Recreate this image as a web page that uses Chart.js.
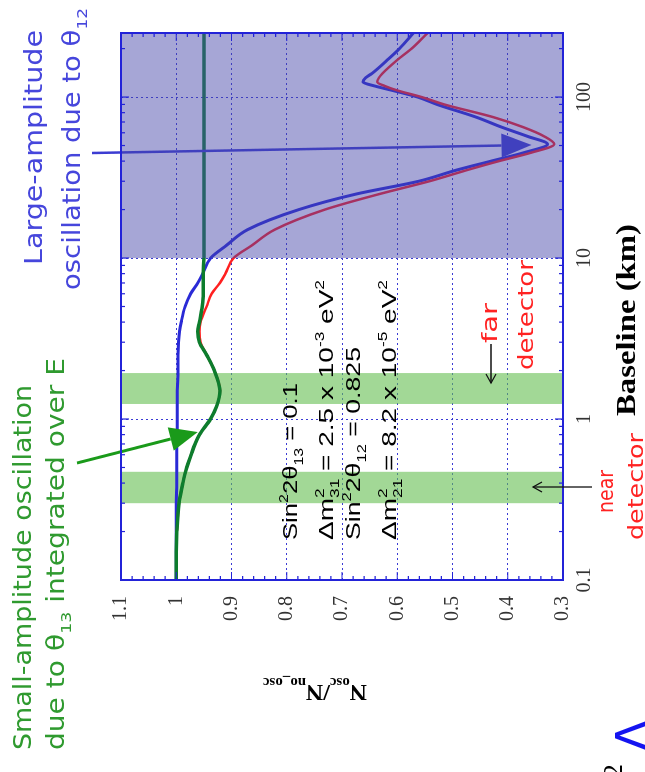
<!DOCTYPE html>
<html>
<head>
<meta charset="utf-8">
<script src="https://cdn.jsdelivr.net/npm/chart.js@4.4.1/dist/chart.umd.min.js"></script>
<style>
  html, body { margin: 0; padding: 0; background: #fff; }
  #page { position: relative; width: 645px; height: 772px; overflow: hidden; background: #fff; }
  /* the figure is printed on its side: draw it upright, then turn it */
  #turn { position: absolute; left: 0; top: 0; width: 772px; height: 645px;
          transform-origin: 0 0; transform: translate(0, 772px) rotate(-90deg); }
</style>
</head>
<body>
<div id="page"><div id="turn"><canvas id="myChart" width="772" height="645"></canvas></div></div>
<script>
  // baseline (km), shared by the three curves
  const baselineKm = [0.1, 0.15, 0.2, 0.3, 0.4, 0.5, 0.6, 0.7, 0.8, 1, 1.2, 1.5, 2, 2.5, 3, 3.5, 4, 5, 6, 7, 8,
    10, 12, 15, 20, 25, 30, 35, 40, 45, 51, 57, 65, 75, 90, 100, 110, 117, 124, 132, 140, 170, 200, 250];

  // N_osc / N_no_osc  -  theta12 only (blue)
  const ratioTheta12 = [1.000, 1.000, 1.000, 1.000, 0.999, 0.999, 0.999, 0.999, 0.998, 0.998, 0.998, 0.998, 0.997, 0.997,
    0.996, 0.994, 0.991, 0.984, 0.974, 0.961, 0.952,
    0.938, 0.909, 0.871, 0.778, 0.674, 0.561, 0.495, 0.430, 0.372, 0.328, 0.364, 0.411, 0.457, 0.528, 0.563, 0.609,
    0.640, 0.662, 0.657, 0.646, 0.618, 0.596, 0.571];

  // theta13 + theta12 (red)
  const ratioBoth = [1.000, 1.000, 0.999, 0.995, 0.988, 0.981, 0.973, 0.966, 0.958, 0.938, 0.927, 0.921, 0.931, 0.945,
    0.956, 0.958, 0.956, 0.945, 0.936, 0.921, 0.911,
    0.896, 0.863, 0.822, 0.731, 0.632, 0.542, 0.476, 0.416, 0.359, 0.316, 0.334, 0.372, 0.426, 0.515, 0.556, 0.600,
    0.622, 0.636, 0.633, 0.627, 0.600, 0.574, 0.545];

  // theta13 only, integrated over E (green)
  const ratioTheta13 = [1.000, 1.000, 0.999, 0.995, 0.988, 0.981, 0.973, 0.966, 0.958, 0.938, 0.927, 0.921, 0.931, 0.945,
    0.958, 0.961, 0.958, 0.953, 0.951, 0.951, 0.951,
    0.950, 0.950, 0.950, 0.950, 0.950, 0.950, 0.950, 0.950, 0.950, 0.950, 0.950, 0.950, 0.950, 0.950, 0.950, 0.950,
    0.950, 0.950, 0.950, 0.950, 0.950, 0.950, 0.950];

  const baselineTicks = [0.1, 1, 10, 100];
  const nearBand = [0.3, 0.47];
  const farBand = [1.24, 1.93];
  const largeOscRange = [10, 250];

  const W = 772; // canvas width; picture y = W - canvas x after the turn

  const pts = vals => baselineKm.map((L, i) => ({x: L, y: vals[i]}));

  // text made of plain / sub / sup / stacked pieces, optionally stretched to a length
  function rich(ctx, parts, u, v, o) {
    const fam = o.family || '"DejaVu Sans", sans-serif';
    const wt = o.weight || 'normal';
    const small = o.size * 0.62;
    const segs = parts.map(p => {
      if (typeof p === 'string') p = {t: p};
      let w;
      if (p.sup !== undefined) {
        ctx.font = `${wt} ${small}px ${fam}`;
        w = Math.max(ctx.measureText(p.sup).width, ctx.measureText(p.sub).width);
      } else {
        ctx.font = `${wt} ${p.k ? small : o.size}px ${fam}`;
        w = ctx.measureText(p.t).width;
      }
      return Object.assign({w}, p);
    });
    const total = segs.reduce((s, g) => s + g.w, 0);
    const sx = o.len ? o.len / total : 1;
    ctx.save();
    ctx.translate(u, v);
    if (o.rot) ctx.rotate(o.rot);
    ctx.scale(sx, 1);
    ctx.fillStyle = o.color || '#000';
    ctx.textBaseline = 'alphabetic';
    ctx.textAlign = 'left';
    let x = o.center ? -total / 2 : 0;
    segs.forEach(g => {
      if (g.sup !== undefined) {
        ctx.font = `${wt} ${small}px ${fam}`;
        ctx.fillText(g.sup, x, -o.size * 0.42);
        ctx.fillText(g.sub, x, o.size * 0.3);
      } else {
        ctx.font = `${wt} ${g.k ? small : o.size}px ${fam}`;
        const dy = g.k === 'sub' ? o.size * 0.3 : g.k === 'sup' ? -o.size * 0.42 : 0;
        ctx.fillText(g.t, x, dy);
      }
      x += g.w;
    });
    ctx.restore();
  }

  function arrow(ctx, x0, y0, x1, y1, color, lw, headLen, headW, open) {
    const a = Math.atan2(y1 - y0, x1 - x0);
    const bx = x1 - headLen * Math.cos(a), by = y1 - headLen * Math.sin(a);
    const px = -Math.sin(a) * headW, py = Math.cos(a) * headW;
    ctx.save();
    ctx.strokeStyle = color; ctx.fillStyle = color; ctx.lineWidth = lw;
    ctx.beginPath();
    ctx.moveTo(x0, y0);
    ctx.lineTo(open ? x1 : bx, open ? y1 : by);
    ctx.stroke();
    ctx.beginPath();
    ctx.moveTo(bx + px, by + py); ctx.lineTo(x1, y1); ctx.lineTo(bx - px, by - py);
    if (open) ctx.stroke(); else { ctx.closePath(); ctx.fill(); }
    ctx.restore();
  }

  const decorations = {
    id: 'decorations',
    beforeDatasetsDraw(chart) {
      const {ctx, chartArea: a, scales: {x}} = chart;
      ctx.save();
      ctx.fillStyle = 'rgba(100,190,80,0.6)';
      [nearBand, farBand].forEach(b => {
        const x0 = x.getPixelForValue(b[0]), x1 = x.getPixelForValue(b[1]);
        ctx.fillRect(x0, a.top, x1 - x0, a.bottom - a.top);
      });
      ctx.restore();
    },
    afterDatasetsDraw(chart) {
      const {ctx, chartArea: a, scales: {x, y}} = chart;
      // arrow to the large oscillation dip
      arrow(ctx, W - 153, 92, x.getPixelForValue(50.4), y.getPixelForValue(0.357), '#3c3cd2', 2.5, 30, 12, false);
      // shaded large-amplitude region
      ctx.save();
      ctx.fillStyle = 'rgba(70,70,170,0.48)';
      const s0 = x.getPixelForValue(largeOscRange[0]), s1 = x.getPixelForValue(largeOscRange[1]);
      ctx.fillRect(s0, a.top, s1 - s0, a.bottom - a.top);
      ctx.restore();
      // arrow to the small oscillation
      arrow(ctx, W - 463, 77, x.getPixelForValue(0.83), y.getPixelForValue(0.961), '#1a9a1a', 3, 28, 12, false);

      // frame and inner minor ticks
      ctx.save();
      ctx.strokeStyle = '#2323d8';
      ctx.lineWidth = 1.2;
      ctx.beginPath();
      baselineTicks.forEach(d => {
        for (let k = 1; k <= 9; k++) {
          const L = d * k;
          if (L > 250) break;
          const px = x.getPixelForValue(L), len = k === 1 ? 8 : 4;
          ctx.moveTo(px, a.top); ctx.lineTo(px, a.top + len);
          ctx.moveTo(px, a.bottom); ctx.lineTo(px, a.bottom - len);
        }
      });
      for (let i = 0; i <= 40; i++) {
        const py = y.getPixelForValue(0.3 + i * 0.02), len = i % 5 === 0 ? 8 : 4;
        ctx.moveTo(a.left, py); ctx.lineTo(a.left + len, py);
        ctx.moveTo(a.right, py); ctx.lineTo(a.right - len, py);
      }
      ctx.stroke();
      ctx.lineWidth = 2;
      ctx.strokeRect(a.left, a.top, a.right - a.left, a.bottom - a.top);
      ctx.restore();
    },
    afterDraw(chart) {
      const {ctx} = chart;
      const sans = '"DejaVu Sans", sans-serif';
      const arial = '"Liberation Sans", Arial, sans-serif';
      const serif = '"Liberation Serif", "Times New Roman", serif';

      // green notes (left)
      rich(ctx, ['Small-amplitude oscillation'], W - 750, 31, {size: 24, family: sans, color: '#2f9a2f', len: 365});
      rich(ctx, ['due to θ', {t: '13', k: 'sub'}, ' integrated over E'], W - 750, 64,
        {size: 24, family: sans, color: '#2f9a2f', len: 392});
      // blue notes (top left)
      rich(ctx, ['Large-amplitude'], W - 265, 42, {size: 24, family: sans, color: '#4646dc', len: 235});
      rich(ctx, ['oscillation due to θ', {t: '12', k: 'sub'}], W - 290, 80,
        {size: 24, family: sans, color: '#4646dc', len: 282});

      // parameters
      rich(ctx, ['Sin', {t: '2', k: 'sup'}, '2θ', {t: '13', k: 'sub'}, ' = 0.1'], W - 540, 297,
        {size: 21, family: arial, len: 157});
      rich(ctx, ['Δm', {sup: '2', sub: '31'}, ' = 2.5 x 10', {t: '-3', k: 'sup'}, ' eV', {t: '2', k: 'sup'}], W - 540, 333,
        {size: 21, family: arial, len: 260});
      rich(ctx, ['Sin', {t: '2', k: 'sup'}, '2θ', {t: '12', k: 'sub'}, ' = 0.825'], W - 540, 360,
        {size: 21, family: arial, len: 193});
      rich(ctx, ['Δm', {sup: '2', sub: '21'}, ' = 8.2 x 10', {t: '-5', k: 'sup'}, ' eV', {t: '2', k: 'sup'}], W - 540, 396,
        {size: 21, family: arial, len: 260});

      // detectors
      rich(ctx, ['far'], W - 343, 497, {size: 22, family: sans, color: '#ff2222', len: 40});
      rich(ctx, ['detector'], W - 370, 533, {size: 22, family: sans, color: '#ff2222', len: 110});
      rich(ctx, ['near'], W - 513, 613, {size: 22, family: sans, color: '#ff2222', len: 43});
      rich(ctx, ['detector'], W - 540, 643, {size: 22, family: sans, color: '#ff2222', len: 107});
      arrow(ctx, W - 344, 491, W - 383, 491, '#111', 1.3, 9, 5, true);
      arrow(ctx, W - 487, 592, W - 487, 533, '#111', 1.3, 9, 5, true);

      // axis titles
      rich(ctx, ['Baseline (km)'], W - 320, 635, {size: 27, family: serif, weight: 'bold', len: 192, center: true});
      rich(ctx, ['N', {t: 'osc', k: 'sub'}, '/N', {t: 'no_osc', k: 'sub'}], W - 685, 315,
        {size: 24, family: serif, weight: 'bold', rot: -Math.PI / 2, center: true});

      // pieces of the next slide
      rich(ctx, ['Δ'], W - 752, 650, {size: 48, family: sans, color: '#1414f0'});
      rich(ctx, ['2'], W - 778, 622, {size: 28, family: serif});
    }
  };

  const gridColor = ctx => {
    const v = ctx.tick && ctx.tick.value;
    return (Math.abs(v - 0.1) < 1e-9 || Math.abs(v - 0.3) < 1e-9 || Math.abs(v - 1.1) < 1e-9) ? 'rgba(0,0,0,0)' : '#3b3bd4';
  };
  const tickFont = {family: '"Liberation Serif", "Times New Roman", serif', size: 20};

  new Chart(document.getElementById('myChart'), {
    type: 'scatter',
    data: {
      datasets: [
        {label: 'theta13 only', data: pts(ratioTheta13), borderColor: '#0d7d2d', borderWidth: 3.5},
        {label: 'theta13 + theta12', data: pts(ratioBoth), borderColor: '#ff2020', borderWidth: 2.5},
        {label: 'theta12 only', data: pts(ratioTheta12), borderColor: '#2a2ad6', borderWidth: 3}
      ].map(d => Object.assign(d, {showLine: true, pointRadius: 0, cubicInterpolationMode: 'monotone', fill: false}))
    },
    plugins: [decorations],
    options: {
      responsive: false,
      animation: false,
      layout: {padding: {top: 121, right: 33, left: 0, bottom: 0}},
      plugins: {legend: {display: false}, tooltip: {enabled: false}},
      scales: {
        x: {
          type: 'logarithmic', min: 0.1, max: 250,
          afterBuildTicks: s => { s.ticks = baselineTicks.map(v => ({value: v})); },
          afterFit: s => { s.height = 82; },
          grid: {color: gridColor, lineWidth: 1, drawTicks: false},
          border: {display: false, dash: [2, 3]},
          ticks: {padding: 10, maxRotation: 0, autoSkip: false, color: '#333', font: tickFont, callback: v => String(v)}
        },
        y: {
          min: 0.3, max: 1.1,
          afterFit: s => { s.width = 192; },
          grid: {color: gridColor, lineWidth: 1, drawTicks: false},
          border: {display: false, dash: [2, 3]},
          ticks: {stepSize: 0.1, padding: 16, color: '#333', font: tickFont,
            callback: v => String(Math.round(v * 10) / 10)}
        }
      }
    }
  });
</script>
</body>
</html>
